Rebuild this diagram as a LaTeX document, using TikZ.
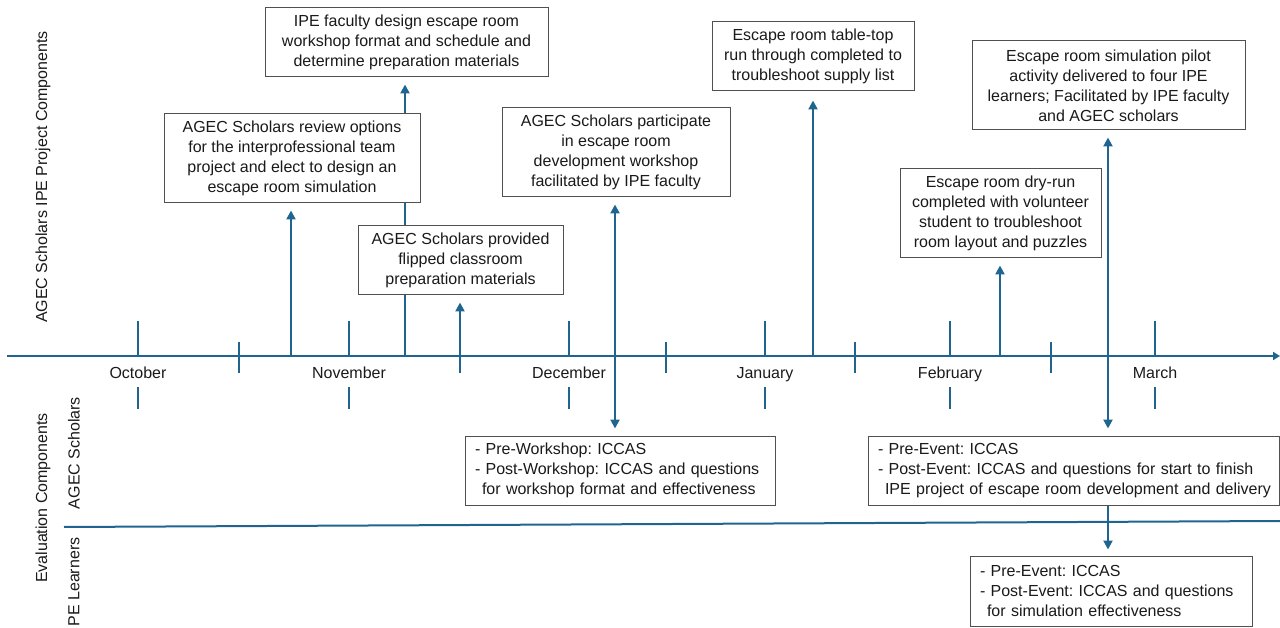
\documentclass[tikz,border=0pt]{standalone}
\usepackage{fontspec}
\setmainfont{Liberation Sans}
\usetikzlibrary{arrows.meta}
\definecolor{tl}{HTML}{1F6590}
\definecolor{bx}{HTML}{505050}
\definecolor{tx}{HTML}{1A1A1A}
\pgfdeclarelayer{bg}
\pgfsetlayers{bg,main}
\frenchspacing
\begin{document}
\begin{tikzpicture}[x=1pt,y=-1pt,
  every node/.style={text=tx,font=\fontsize{16}{20}\selectfont},
  evbox/.style={draw=bx,line width=1pt,fill=white,align=center,inner sep=0pt},
  evalbox/.style={draw=bx,line width=1pt,fill=white,align=left,inner xsep=10pt,inner ysep=0pt},
  arr/.style={draw=tl,line width=2.6pt,-{Triangle[length=9pt,width=9pt]},shorten >=7pt},
  tk/.style={draw=tl,line width=1.6pt},
  mlabel/.style={anchor=base},
  lbl/.style={rotate=90}]
\useasboundingbox (0,0) rectangle (1280,628);

% boxes above the timeline
\node[evbox,minimum width=283pt,minimum height=69pt] (b1) at (406.5,42.5)
  {IPE faculty design escape room\\workshop format and schedule and\\determine preparation materials};
\node[evbox,minimum width=256pt,minimum height=89pt] (b2) at (292,158.5)
  {AGEC Scholars review options\\for the interprofessional team\\project and elect to design an\\escape room simulation};
\node[evbox,minimum width=205pt,minimum height=69pt] (b3) at (460.5,260.5)
  {AGEC Scholars provided\\flipped classroom\\preparation materials};
\node[evbox,minimum width=228pt,minimum height=89pt] (b4) at (616,152.5)
  {AGEC Scholars participate\\in escape room\\development workshop\\facilitated by IPE faculty};
\node[evbox,minimum width=202pt,minimum height=69pt] (b5) at (813,56.5)
  {Escape room table-top\\run through completed to\\troubleshoot supply list};
\node[evbox,minimum width=273pt,minimum height=89pt] (b6) at (1108.5,85.5)
  {Escape room simulation pilot\\activity delivered to four IPE\\learners; Facilitated by IPE faculty\\and AGEC scholars};
\node[evbox,minimum width=201pt,minimum height=89pt] (b7) at (1000.5,213.5)
  {Escape room dry-run\\completed with volunteer\\student to troubleshoot\\room layout and puzzles};

% evaluation boxes
\node[evalbox,text width=290pt,minimum height=69pt] (b8) at (620,470.5)
  {\mbox{- Pre-Workshop: ICCAS}\\\mbox{- Post-Workshop: ICCAS and questions}\\\mbox{\hspace*{7pt}for workshop format and effectiveness}};
\node[evalbox,text width=391pt,minimum height=69pt] (b9) at (1073.5,470.5)
  {\mbox{- Pre-Event: ICCAS}\\\mbox{- Post-Event: ICCAS and questions for start to finish}\\\mbox{\hspace*{7pt}IPE project of escape room development and delivery}};
\node[evalbox,text width=262pt,minimum height=70pt] (b10) at (1111,591)
  {\mbox{- Pre-Event: ICCAS}\\\mbox{- Post-Event: ICCAS and questions}\\\mbox{\hspace*{7pt}for simulation effectiveness}};

% timeline axis
\coordinate (axL) at (7,356);
\coordinate (axR) at (1280,356);
\draw[draw=tl,line width=2pt,-{Triangle[length=7pt,width=8pt]}] (axL) -- (axR);

% month ticks and labels
\foreach \mx/\mn/\mname in {138/October/mOct,349/November/mNov,569/December/mDec,765/January/mJan,950/February/mFeb,1155/March/mMar}{
  \draw[tk] (\mx,321) -- (\mx,356);
  \draw[tk] (\mx,387) -- (\mx,409);
  \node[mlabel] (\mname) at (\mx,378) {\mn};
}
% month boundary ticks
\foreach \bx in {239,460,666,855,1051}{
  \draw[tk] (\bx,342) -- (\bx,373);
}

% separator between evaluation rows
\coordinate (sepL) at (64,527);
\coordinate (sepR) at (1280,521);
\draw[draw=tl,line width=2pt] (sepL) -- (sepR);

% event points on the axis
\coordinate (t1) at (291,356);
\coordinate (t2) at (405,356);
\coordinate (t3) at (460,356);
\coordinate (t4) at (615,356);
\coordinate (t5) at (813,356);
\coordinate (t6) at (1000,356);
\coordinate (t7) at (1108,356);

\begin{pgfonlayer}{bg}
\draw[arr] (t1) -- (t1 |- b2.south);
\draw[arr] (t2) -- (t2 |- b1.south);
\draw[arr] (t3) -- (t3 |- b3.south);
\draw[arr] (t4) -- (t4 |- b4.south);
\draw[arr] (t4) -- (t4 |- b8.north);
\draw[arr,shorten >=9pt] (t5) -- (t5 |- b5.south);
\draw[arr] (t6) -- (t6 |- b7.south);
\draw[arr] (t7) -- (t7 |- b6.south);
\draw[arr] (t7) -- (t7 |- b9.north);
\draw[arr,shorten >=6pt] (t7 |- b9.south) -- (t7 |- b10.north);
\end{pgfonlayer}

% side labels
\node[lbl] (lblTop) at (43,177) {AGEC Scholars IPE Project Components};
\node[lbl] (lblEval) at (43,498) {Evaluation Components};
\node[lbl] (lblAS) at (74,453) {AGEC Scholars};
\node[lbl] (lblPE) at (74,582) {PE Learners};
\end{tikzpicture}
\end{document}
